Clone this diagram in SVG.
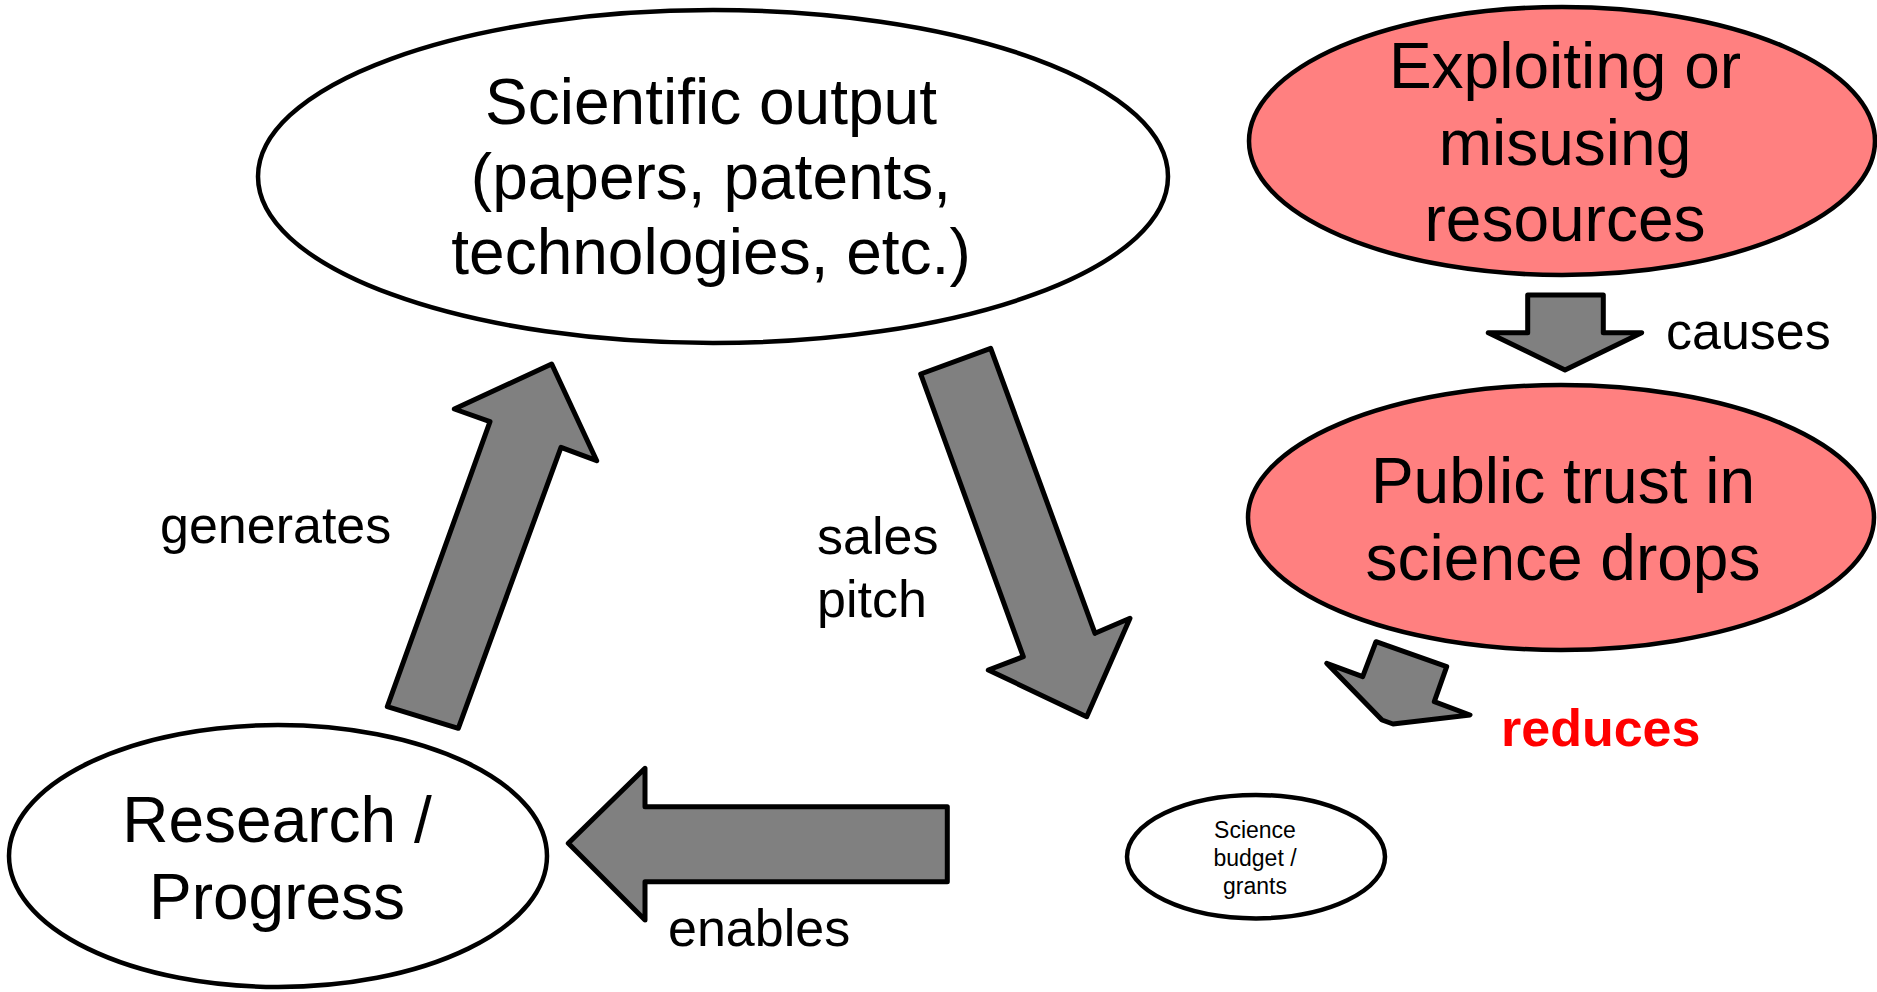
<svg xmlns="http://www.w3.org/2000/svg" width="1877" height="992" viewBox="0 0 1877 992">
<style>
.node{fill:#fff;stroke:#000;stroke-width:4.5}
.red{fill:#ff8080}
.arr{fill:#808080;stroke:#000;stroke-width:5;stroke-linejoin:round}
.t{font-family:"Liberation Sans",Arial,sans-serif;font-size:64px;fill:#000;text-anchor:middle}
.lbl{font-family:"Liberation Sans",Arial,sans-serif;font-size:52px;fill:#000}
.sm{font-family:"Liberation Sans",Arial,sans-serif;font-size:23px;fill:#000;text-anchor:middle}
</style>
<rect width="1877" height="992" fill="#fff"/>
<g id="connectors">
<polygon class="arr" points="551.7,364 596.7,460.7 561,447.3 458.3,728.3 387.3,706.7 490,421.7 454.3,409"/>
<polygon class="arr" points="920.7,374 990.7,348.3 1095,633.3 1130,618.3 1086.7,716.7 988.3,670 1023.3,656.7"/>
<polygon class="arr" points="568.3,843.3 645,768.3 645,806.7 947.3,806.7 947.3,881.7 645,881.7 645,920"/>
<polygon class="arr" points="1527.7,295 1603.3,295 1603.3,332.7 1641.7,332.7 1565,370 1488.3,332.7 1527.7,332.7"/>
<polygon class="arr" points="1376,641.7 1446.7,666.7 1434.3,701.7 1470,715 1393,724 1382,720 1326.7,663.3 1362.7,676.7"/>
<text class="lbl" x="160" y="543">generates</text>
<text class="lbl" x="817" y="554">sales</text>
<text class="lbl" x="817" y="617">pitch</text>
<text class="lbl" x="668" y="946">enables</text>
<text class="lbl" x="1666" y="349">causes</text>
<text class="lbl" x="1501" y="746" style="font-weight:bold;fill:#ff0000">reduces</text>
</g>
<g id="scientific-output">
<ellipse class="node" cx="713" cy="176.5" rx="455" ry="166.5"/>
<text class="t" x="711" y="124">Scientific output</text>
<text class="t" x="711" y="199">(papers, patents,</text>
<text class="t" x="711" y="274">technologies, etc.)</text>
</g>
<g id="exploiting">
<ellipse class="node red" cx="1562" cy="141" rx="313" ry="134"/>
<text class="t" x="1565" y="88">Exploiting or</text>
<text class="t" x="1565" y="165">misusing</text>
<text class="t" x="1565" y="241">resources</text>
</g>
<g id="public-trust">
<ellipse class="node red" cx="1561" cy="517.5" rx="313" ry="132.5"/>
<text class="t" x="1563" y="503">Public trust in</text>
<text class="t" x="1563" y="580">science drops</text>
</g>
<g id="research">
<ellipse class="node" cx="278" cy="856" rx="269" ry="131"/>
<text class="t" x="277" y="842">Research /</text>
<text class="t" x="277" y="919">Progress</text>
</g>
<g id="budget">
<ellipse class="node" cx="1256" cy="856.7" rx="129" ry="61.7"/>
<text class="sm" x="1255" y="838">Science</text>
<text class="sm" x="1255" y="866">budget /</text>
<text class="sm" x="1255" y="894">grants</text>
</g>
</svg>
